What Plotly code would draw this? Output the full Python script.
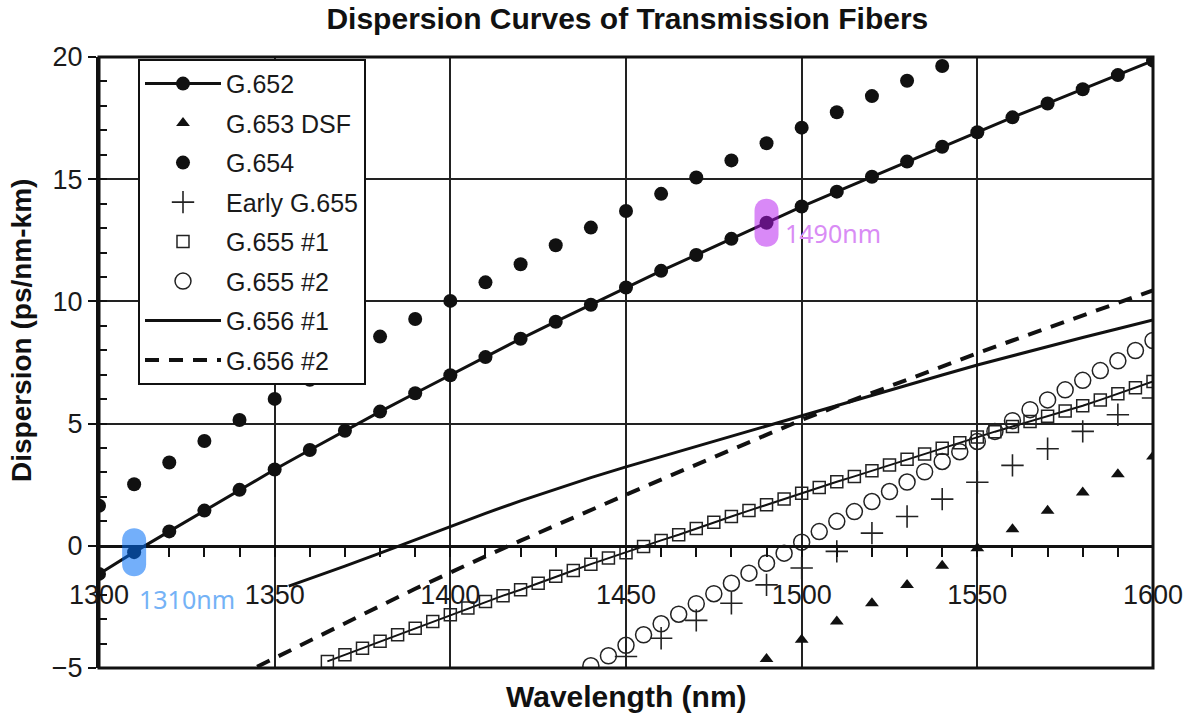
import plotly.graph_objects as go

# ---------------- data ----------------
wl_10 = list(range(1300, 1601, 10))
g652 = [-1.15, -0.26, 0.59, 1.44, 2.29, 3.12, 3.92, 4.71, 5.49, 6.24,
        6.98, 7.72, 8.47, 9.17, 9.86, 10.57, 11.25, 11.9, 12.56, 13.22,
        13.88, 14.49, 15.1, 15.72, 16.33, 16.92, 17.53, 18.1, 18.68, 19.26, 19.85]

wl_g654 = list(range(1300, 1541, 10))
g654 = [1.64, 2.52, 3.41, 4.29, 5.15, 6.01, 6.79, 7.68, 8.56, 9.28,
        10.02, 10.78, 11.52, 12.3, 13.02, 13.7, 14.4, 15.07, 15.77, 16.47,
        17.11, 17.74, 18.4, 19.03, 19.63]

wl_g653 = list(range(1490, 1601, 10))
g653 = [-4.63, -3.84, -3.1, -2.35, -1.6, -0.82, -0.1, 0.68, 1.43, 2.18, 2.93, 3.65]

wl_early = list(range(1450, 1601, 10))
early655 = [-4.53, -3.78, -3.05, -2.35, -1.6, -0.91, -0.23, 0.52, 1.2, 1.91,
            2.6, 3.29, 3.97, 4.68, 5.36, 6.05]

wl_g655a = list(range(1365, 1601, 5))
g655a = [-4.73, -4.46, -4.19, -3.91, -3.64, -3.37, -3.10, -2.82, -2.55, -2.28,
         -2.04, -1.80, -1.53, -1.25, -1.01, -0.75, -0.50, -0.28, -0.03, 0.22,
         0.45, 0.71, 0.96, 1.2, 1.44, 1.68, 1.91, 2.15, 2.39, 2.62,
         2.84, 3.07, 3.31, 3.54, 3.76, 3.99, 4.22, 4.45, 4.67, 4.88,
         5.09, 5.30, 5.52, 5.73, 5.97, 6.22, 6.47, 6.72]

wl_g655b = list(range(1440, 1601, 5))
g655b = [-4.91, -4.5, -4.07, -3.64, -3.19, -2.8, -2.37, -1.96, -1.53, -1.12,
         -0.71, -0.3, 0.15, 0.58, 1.0, 1.4, 1.81, 2.22, 2.61, 3.03,
         3.45, 3.85, 4.27, 4.68, 5.12, 5.57, 5.97, 6.38, 6.77, 7.17,
         7.57, 7.99, 8.4]

wl_g656a = [1354] + list(range(1360, 1601, 10))
g656a = [-1.65, -1.35, -0.83, -0.3, 0.25, 0.8, 1.33, 1.84, 2.33, 2.79,
         3.23, 3.65, 4.06, 4.48, 4.90, 5.32, 5.74, 6.16, 6.58, 6.99,
         7.40, 7.78, 8.14, 8.52, 8.88, 9.24]

wl_g656b = [1345, 1350] + list(range(1360, 1601, 10))
g656b = [-4.95, -4.59, -3.87, -3.16, -2.46, -1.76, -1.08, -0.43, 0.21, 0.85,
         1.47, 2.09, 2.71, 3.32, 3.93, 4.54, 5.15, 5.71, 6.26, 6.81,
         7.35, 7.88, 8.40, 8.92, 9.43, 9.94, 10.45]

x_ticks = list(range(1300, 1601, 50))
y_ticks = [-5, 0, 5, 10, 15, 20]
y_ticktext = ["\u22125", "0", "5", "10", "15", "20"]
highlight_wl = [1310, 1490]
highlight_labels = ["1310nm", "1490nm"]

# ---------------- figure ----------------
BLACK = "#111111"
fig = go.Figure()

fig.add_trace(go.Scatter(x=wl_10, y=g652, name="G.652", mode="lines+markers",
                         line=dict(color=BLACK, width=3),
                         marker=dict(symbol="circle", size=14, color=BLACK),
                         legendgroup="a"))
fig.add_trace(go.Scatter(x=wl_g653, y=g653, name="G.653 DSF", mode="markers",
                         marker=dict(symbol="triangle-up", size=12, color=BLACK),
                         legendgroup="b"))
fig.add_trace(go.Scatter(x=wl_g654, y=g654, name="G.654", mode="markers",
                         marker=dict(symbol="circle", size=14, color=BLACK),
                         legendgroup="c"))
fig.add_trace(go.Scatter(x=wl_early, y=early655, name="Early G.655", mode="markers",
                         marker=dict(symbol="cross-thin", size=16,
                                     line=dict(color="#222222", width=1.6)),
                         legendgroup="d"))
fig.add_trace(go.Scatter(x=wl_g655a, y=g655a, mode="lines", showlegend=False,
                         line=dict(color=BLACK, width=2), hoverinfo="skip",
                         legendgroup="e"))
fig.add_trace(go.Scatter(x=wl_g655a, y=g655a, name="G.655 #1", mode="markers",
                         marker=dict(symbol="square-open", size=12, color="#222222",
                                     line=dict(width=1.5)),
                         legendgroup="e"))
fig.add_trace(go.Scatter(x=wl_g655b, y=g655b, name="G.655 #2", mode="markers",
                         marker=dict(symbol="circle-open", size=16, color="#222222",
                                     line=dict(width=1.5)),
                         legendgroup="f"))
fig.add_trace(go.Scatter(x=wl_g656a, y=g656a, name="G.656 #1", mode="lines",
                         line=dict(color=BLACK, width=3), legendgroup="g"))
fig.add_trace(go.Scatter(x=wl_g656b, y=g656b, name="G.656 #2", mode="lines",
                         line=dict(color=BLACK, width=4, dash="14px,10px"),
                         legendgroup="h"))

TICKFONT = dict(family="Liberation Sans, Arial, sans-serif", size=27, color="#1a1a1a")

fig.update_layout(
    width=1195, height=720,
    margin=dict(l=99, r=42, t=57, b=52),
    paper_bgcolor="white", plot_bgcolor="white",
    title=dict(text="Dispersion Curves of Transmission Fibers",
               x=0.525, xanchor="center", y=0.975, yanchor="middle",
               font=dict(family="Liberation Sans, Arial", size=30,
                         color="#111111", weight="bold")),
    xaxis=dict(range=[1300, 1600], tickvals=x_ticks, showgrid=True,
               gridcolor="#222222", gridwidth=1.5, zeroline=False,
               anchor="free", position=0.2, showline=True, linecolor=BLACK,
               linewidth=2.5, ticks="outside", ticklen=9, tickwidth=2,
               tickcolor=BLACK, ticklabelstandoff=15, tickfont=TICKFONT,
               minor=dict(dtick=10, ticks="outside", ticklen=9, tickwidth=2,
                          tickcolor=BLACK, showgrid=False)),
    xaxis2=dict(range=[1300, 1600], overlaying="x", matches="x", anchor="free",
                position=0.2, showgrid=False, zeroline=False, showticklabels=False,
                tickvals=x_ticks, ticks="inside", ticklen=9, tickwidth=2,
                tickcolor=BLACK, showline=False,
                minor=dict(dtick=10, ticks="inside", ticklen=9, tickwidth=2,
                           tickcolor=BLACK, showgrid=False)),
    yaxis=dict(range=[-5, 20], tickvals=y_ticks, ticktext=y_ticktext, showgrid=True,
               gridcolor="#222222", gridwidth=1.5, zeroline=False,
               showline=True, linecolor=BLACK, linewidth=3,
               ticks="outside", ticklen=8, tickwidth=2, tickcolor=BLACK,
               tickfont=TICKFONT,
               minor=dict(dtick=1, ticks="inside", ticklen=8, tickwidth=2,
                          tickcolor=BLACK, showgrid=False)),
    legend=dict(x=0.037, y=0.997, xanchor="left", yanchor="top",
                bgcolor="white", bordercolor=BLACK, borderwidth=2,
                font=dict(family="Liberation Sans, Arial", size=25, color="#1a1a1a"),
                itemwidth=76, tracegroupgap=4, traceorder="grouped"),
    showlegend=True,
)

# frame around the plot area
fig.add_shape(type="rect", xref="paper", yref="paper", x0=0, x1=1, y0=0, y1=1,
              line=dict(color=BLACK, width=3), layer="above")

# highlight pills + labels on G.652
pill = "M -12 -12 L -12 12 C -12 28 12 28 12 12 L 12 -12 C 12 -28 -12 -28 -12 -12 Z"
hl_styles = [dict(fill="rgb(0,110,245)", op=0.55, txt="#74b2f6", xs=3, ys=-47),
             dict(fill="rgb(180,20,240)", op=0.5, txt="#d98cf5", xs=16, ys=-10)]
for wl, lab, st in zip(highlight_wl, highlight_labels, hl_styles):
    yv = g652[wl_10.index(wl)]
    fig.add_shape(type="path", xref="x", yref="y", xsizemode="pixel", ysizemode="pixel",
                  xanchor=wl, yanchor=yv, path=pill, fillcolor=st["fill"],
                  opacity=st["op"], line=dict(width=0), layer="above")
    fig.add_annotation(x=wl, y=yv, text=lab, showarrow=False, xanchor="left",
                       yanchor="middle", xshift=st["xs"], yshift=st["ys"],
                       font=dict(family="Noto Sans, Open Sans, sans-serif", size=25,
                                 color=st["txt"]))

# axis titles
fig.add_annotation(xref="paper", yref="paper", x=0.5, y=-0.047, yanchor="middle",
                   text="Wavelength (nm)", showarrow=False,
                   font=dict(family="Liberation Sans, Arial", size=30, color="#111111",
                             weight="bold"))
fig.add_annotation(xref="paper", yref="paper", x=-0.073, y=0.5516, xanchor="center",
                   yanchor="middle", text="Dispersion (ps/nm-km)", showarrow=False,
                   textangle=-90,
                   font=dict(family="Liberation Sans, Arial", size=28, color="#111111",
                             weight="bold"))

fig.write_html("out.html", config={"displayModeBar": False},
               post_script="document.body.style.margin='0';document.body.style.overflow='hidden';")
